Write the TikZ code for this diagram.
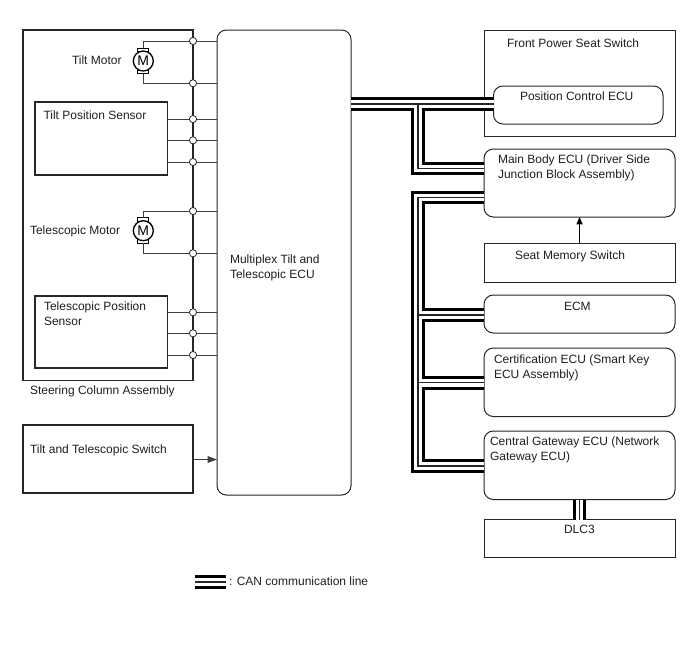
\documentclass[tikz,border=0pt]{standalone}
\usepackage{fontspec}
\setmainfont{Liberation Sans}
\usetikzlibrary{fit,arrows.meta,calc}

% Box given by its corner coordinates: \boxat[style]{name}{x1,y1}{x2,y2}
\newcommand{\boxat}[4][plainbox]{\node[#1,fit={(#3)(#4)}] (#2) {};}
% Text label placed by the left end of its last baseline
\newcommand{\lab}[3]{\node[lbl] (#1) at (#2) {#3};}

\tikzset{
  x=0.75pt, y=-0.75pt,
  plainbox/.style={draw=black!85,line width=0.75pt,inner sep=0pt,outer sep=0pt,fill=white},
  heavybox/.style={plainbox,line width=1.1pt},
  roundbox/.style={plainbox,rounded corners=7pt},
  lbl/.style={anchor=base west,inner sep=0pt,outer sep=0pt,font=\fontsize{9}{11}\selectfont,
    text=black!88,align=left},
  wire/.style={draw=black!75,line width=0.75pt},
  tap/.style={circle,draw=black!85,fill=white,line width=0.6pt,minimum size=5.4pt,inner sep=0pt},
  busouter/.style={line width=10.2pt,draw=black,line cap=butt,line join=miter},
  busgap/.style={line width=5.8pt,draw=white,line cap=butt,line join=miter},
  buscore/.style={line width=0.9pt,draw=black!85,line cap=butt,line join=miter},
  brush/.style={draw=black,line width=0.75pt,fill=white,minimum width=8.4pt,minimum height=2.6pt,inner sep=0pt,outer sep=0pt},
  motorbody/.style={circle,draw=black,line width=1pt,fill=white,minimum size=15pt,inner sep=0pt,
    font=\fontsize{10.5}{10.5}\selectfont},
}

\begin{document}
\begin{tikzpicture}
\useasboundingbox (0,0) rectangle (688,658);

% Left-hand assemblies
\boxat[heavybox]{column}{23,30}{193,380.5}
\boxat[heavybox]{tiltsensor}{35,102}{167.7,175}
\boxat[heavybox]{telesensor}{35,296}{167.7,368}
\boxat[heavybox]{switch}{23,425}{193,493}
\boxat[roundbox]{ecu}{217,30}{351,495}

% Right-hand units
\boxat{seatswitch}{484,30}{675,136}
\boxat[roundbox]{posecu}{493.5,86}{663,124}
\boxat[roundbox]{mainecu}{484,149}{675,217}
\boxat{memory}{484,243}{675,282}
\boxat[roundbox]{ecm}{484,295}{675,333}
\boxat[roundbox]{cert}{484,348}{675,416.5}
\boxat[roundbox]{gateway}{484,431}{675,499.5}
\boxat{dlc}{484,519.5}{675,557}

% Motors
\foreach \mname/\my in {tiltm/61,telem/230.7}{
  \node[brush] (\mname top) at (143.3,\my-11) {};
  \node[brush] (\mname bot) at (143.3,\my+11) {};
  \node[motorbody] (\mname) at (143.3,\my) {M};
}

% Tap points on the column edge
\foreach \tname/\ty in {a/41,b/83.3,c/119,d/140.3,e/162,f/211,g/253.3,h/312.3,i/333.3,j/355}{
  \coordinate (t\tname) at (193,\ty);
}

% Wiring into the multiplex ECU
\draw[wire] (tiltmtop.north) |- (ta -| ecu.west);
\draw[wire] (tiltmbot.south) |- (tb -| ecu.west);
\draw[wire] (telemtop.north) |- (tf -| ecu.west);
\draw[wire] (telembot.south) |- (tg -| ecu.west);
\foreach \tname in {c,d,e}{
  \draw[wire] (t\tname -| tiltsensor.east) -- (t\tname -| ecu.west);
}
\foreach \tname in {h,i,j}{
  \draw[wire] (t\tname -| telesensor.east) -- (t\tname -| ecu.west);
}
\foreach \tname in {a,b,c,d,e,f,g,h,i,j}{
  \node[tap] (tap\tname) at (t\tname) {};
}

% Switch input and seat memory input
\coordinate (swin) at (193,459.5);
\draw[wire,-{Triangle[length=7pt,width=5pt]}] (swin) -- (swin -| ecu.west);
\coordinate (memx) at (579.5,243);
\draw[wire,black,-{Triangle[length=5.5pt,width=4.5pt]}] (memx) -- (memx |- mainecu.south);

% CAN bus junctions
\coordinate (b1) at (351,104);
\coordinate (b2) at (418,104);
\coordinate (b3) at (418,168.5);
\coordinate (b4) at (418,197.5);
\coordinate (b5) at (418,315);
\coordinate (b6) at (418,382.7);
\coordinate (b7) at (418,466);
\coordinate (d1) at (579.5,499.5);
\coordinate (l1) at (195,582);
\coordinate (l2) at (226,582);

\newcommand{\canlines}[1]{%
  \draw[#1] (b1) -- (b1 -| posecu.west);
  \draw[#1] (b2) -- (b3) -- (b3 -| mainecu.west);
  \draw[#1] (b4 -| mainecu.west) -- (b4) -- (b7) -- (b7 -| gateway.west);
  \draw[#1] (b5) -- (b5 -| ecm.west);
  \draw[#1] (b6) -- (b6 -| cert.west);
  \draw[#1] (d1) -- (d1 |- dlc.north);
  \draw[#1] (l1) -- (l2);
}
\canlines{busouter}
\canlines{busgap}
\canlines{buscore}

% Labels
\lab{t1}{72,64}{Tilt Motor}
\lab{t2}{43.5,119}{Tilt Position Sensor}
\lab{t3}{30,234}{Telescopic Motor}
\lab{t4}{44,325.5}{Telescopic Position\\Sensor}
\lab{t5}{30,394}{Steering Column Assembly}
\lab{t6}{30,453}{Tilt and Telescopic Switch}
\lab{t7}{230,278}{Multiplex Tilt and\\Telescopic ECU}
\lab{t8}{507,47}{Front Power Seat Switch}
\lab{t9}{520,100}{Position Control ECU}
\lab{t10}{498,178}{Main Body ECU (Driver Side\\Junction Block Assembly)}
\lab{t11}{515,259}{Seat Memory Switch}
\lab{t12}{564,310}{ECM}
\lab{t13}{494,378.5}{Certification ECU (Smart Key\\ECU Assembly)}
\lab{t14}{490,460}{Central Gateway ECU (Network\\Gateway ECU)}
\lab{t15}{564,533}{DLC3}
\lab{t16}{229,585}{: CAN communication line}
\end{tikzpicture}
\end{document}
